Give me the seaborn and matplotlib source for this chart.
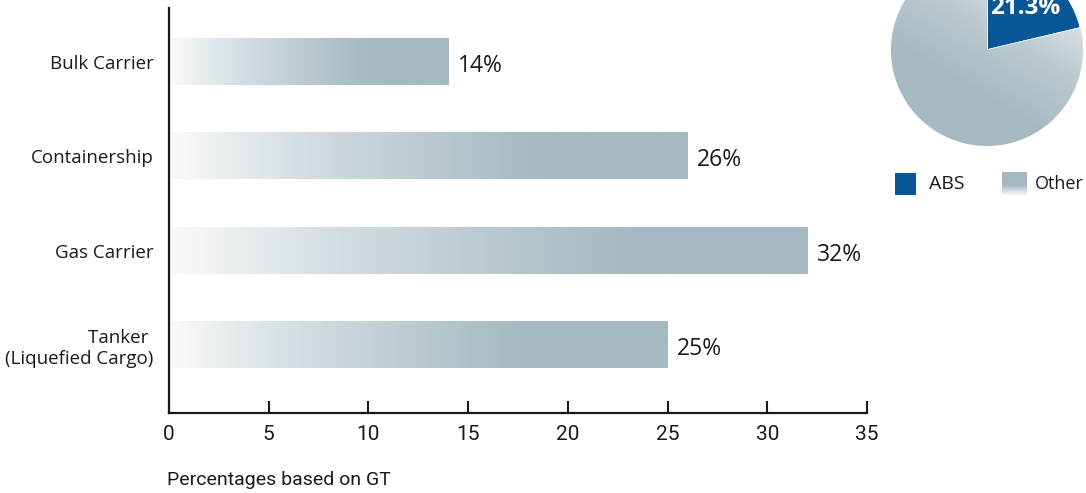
import numpy as np
import pandas as pd
import matplotlib
matplotlib.use("Agg")
import matplotlib.pyplot as plt
import seaborn as sns
from matplotlib.colors import LinearSegmentedColormap
from matplotlib.patches import Rectangle

# ---- data ----
categories = ["Bulk Carrier", "Containership", "Gas Carrier", "Tanker \n(Liquefied Cargo)"]
shares = [14, 26, 32, 25]
value_labels = ["14%", "26%", "32%", "25%"]
x_ticks = [0, 5, 10, 15, 20, 25, 30, 35]
pie_labels = ["ABS", "Other"]
pie_values = [21.3, 78.7]
pie_text = "21.3%"
x_caption = "Percentages based on GT"

BAR = "#a4b9c1"
LIGHT = "#f9fafa"
ABS_BLUE = "#0a5798"

sns.set_theme(style="white")
plt.rcParams['font.family'] = ['Open Sans', 'DejaVu Sans']
NARROW = ['Liberation Sans Narrow', 'Roboto', 'DejaVu Sans']

W, H = 1086, 493
fig = plt.figure(figsize=(W / 100, H / 100), dpi=100)

# ---- bar chart ----
ax = fig.add_axes([169 / W, (H - 413) / H, (867 - 169) / W, (413 - 8) / H])
df = pd.DataFrame({"category": categories, "share": shares})
sns.barplot(data=df, x="share", y="category", orient="h", color=BAR,
            width=0.49, ax=ax, saturation=1)

grad_cmap = LinearSegmentedColormap.from_list("g", [LIGHT, "#d6dfe3", "#bccbd1", BAR],
                                              N=256)
for p in list(ax.patches):
    x0, y0 = p.get_x(), p.get_y()
    w, h = p.get_width(), p.get_height()
    frac = np.linspace(0, 1, 400)
    t = np.clip(frac / 0.72, 0, 1)
    img = np.tile(t, (2, 1))
    ax.imshow(img, extent=[x0, x0 + w, y0 + h, y0], cmap=grad_cmap, vmin=0, vmax=1,
              aspect="auto", interpolation="bilinear", zorder=p.get_zorder() + 0.1)
    p.set_alpha(0)

ax.set_xlim(0, 35)
ax.set_ylim(3.72, -0.57)

for i, (v, lab) in enumerate(zip(shares, value_labels)):
    ax.annotate(lab, xy=(v, i), xytext=(7, -3), textcoords="offset points",
                ha="left", va="center", fontsize=16.5, color="#1a1a1a")

ax.set_xticks(x_ticks)
ax.set_xticklabels([str(t) for t in x_ticks], family=NARROW, fontsize=15, color="#1a1a1a")
ax.set_xlabel("")
ax.set_ylabel("")
ax.tick_params(axis="x", direction="in", length=9, width=1.5, color="#1a1a1a", pad=9,
               bottom=True)
ax.tick_params(axis="y", length=0, pad=11, labelsize=13.5, labelcolor="#1a1a1a")
for s in ["top", "right"]:
    ax.spines[s].set_visible(False)
for s in ["left", "bottom"]:
    ax.spines[s].set_color("#1a1a1a")
    ax.spines[s].set_linewidth(1.6)
ax.grid(False)

fig.text(167 / W, 1 - 480 / H, x_caption, ha="left", va="center",
         fontsize=14, family=NARROW, color="#1a1a1a")

# ---- pie ----
cx, cy, r = 987, 50, 96
pax = fig.add_axes([(cx - r) / W, (H - cy - r) / H, 2 * r / W, 2 * r / H])
wedges, _ = pax.pie(pie_values, colors=[ABS_BLUE, BAR], startangle=90,
                    counterclock=False, radius=1)
pax.set_xlim(-1, 1)
pax.set_ylim(-1, 1)
pax.set_aspect("equal")
pax.axis("off")

pie_cmap = LinearSegmentedColormap.from_list("p", ["#a5b9c2", "#bccad0", "#e4eaed"])
gx, gy = np.meshgrid(np.linspace(-1, 1, 200), np.linspace(1, -1, 200))
tt = np.clip((gx * 0.5 + gy * 0.85 + 0.45) / 1.35, 0, 1)
im = pax.imshow(tt, extent=[-1, 1, -1, 1], cmap=pie_cmap, vmin=0, vmax=1,
                origin="upper", interpolation="bilinear", zorder=3)
im.set_clip_path(wedges[1])
pax.text(0.40, 0.44, pie_text, ha="center", va="center", color="white",
         fontsize=17.5, fontweight="bold", zorder=5)

# ---- legend ----
fig.patches.append(Rectangle((895 / W, 1 - 195 / H), 21 / W, 22 / H,
                             transform=fig.transFigure, facecolor=ABS_BLUE,
                             edgecolor="none"))
fig.text(929 / W, 1 - 184 / H, pie_labels[0], ha="left", va="center",
         fontsize=14, color="#1a1a1a")
lax = fig.add_axes([1002 / W, 1 - 196 / H, 25 / W, 24 / H])
lg = np.tile(np.clip((np.linspace(0, 1, 100) - 0.55) / 0.45, 0, 1)[:, None], (1, 2))
lax.imshow(lg, cmap=LinearSegmentedColormap.from_list("l", [BAR, "#ffffff"]),
           aspect="auto", extent=[0, 1, 0, 1], vmin=0, vmax=1)
lax.axis("off")
fig.text(1035 / W, 1 - 184 / H, pie_labels[1], ha="left", va="center",
         fontsize=13, color="#1a1a1a")

fig.savefig("out.png", dpi=100)
